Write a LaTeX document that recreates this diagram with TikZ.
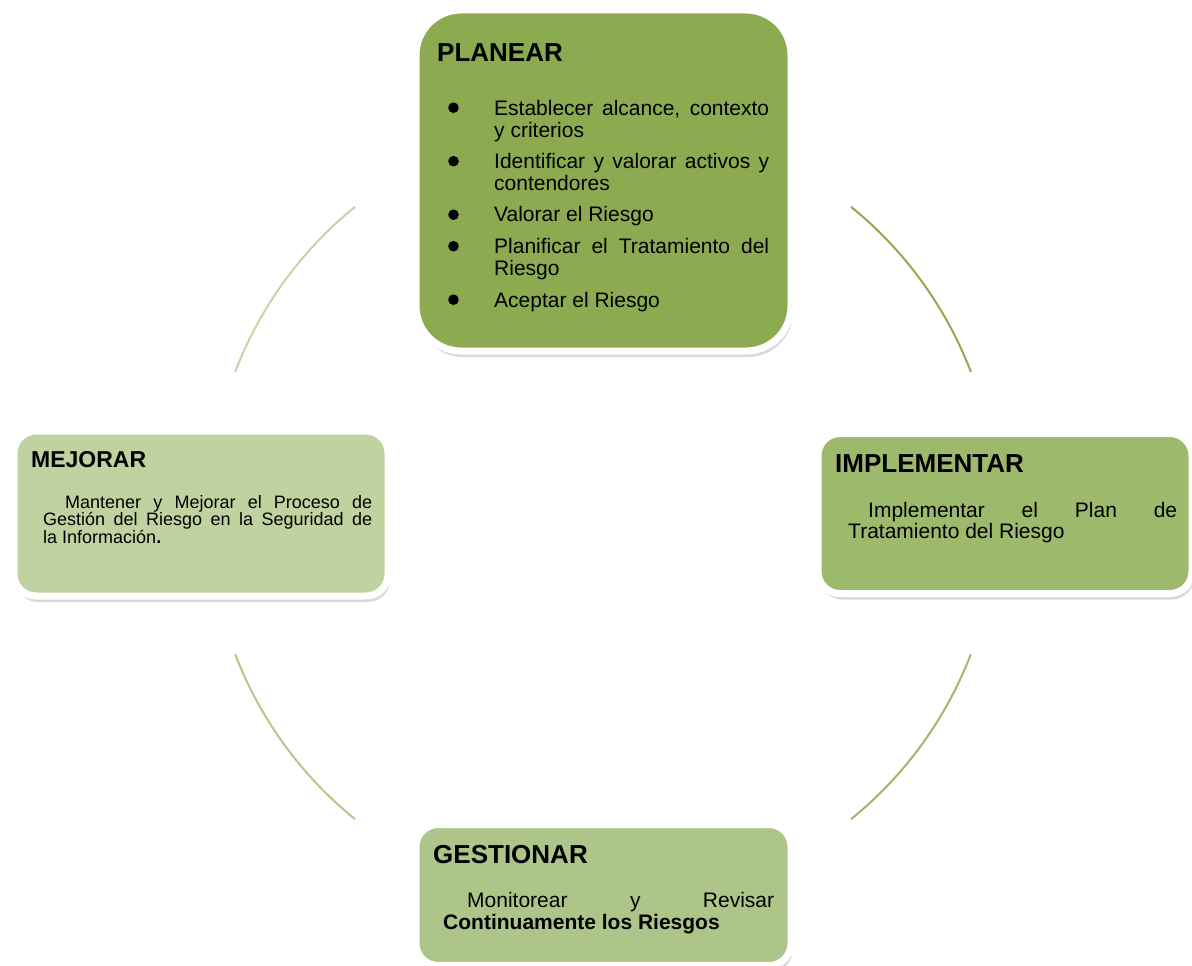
\documentclass[tikz,border=0pt]{standalone}
\usepackage{fontspec}
\setmainfont{Liberation Sans}
\usepackage{tikz}
\usetikzlibrary{shadows}

\definecolor{planearfill}{RGB}{140,170,80}
\definecolor{implementarfill}{RGB}{157,185,107}
\definecolor{gestionarfill}{RGB}{174,197,137}
\definecolor{mejorarfill}{RGB}{193,210,161}
\definecolor{arcone}{RGB}{143,172,82}
\definecolor{arctwo}{RGB}{157,186,108}
\definecolor{arcthree}{RGB}{178,200,140}
\definecolor{arcfour}{RGB}{198,213,168}

\hyphenpenalty=10000
\tolerance=10000
\hbadness=10000

\newcommand{\planitem}[1]{\hangindent=46pt\hangafter=1\noindent
  \makebox[46pt][l]{\raisebox{2pt}{\tikz\fill (0,0) circle (5.3pt);}}#1\par}

\tikzset{
  stagebox/.style={draw=white, line width=7pt, rounded corners=22pt,
    inner sep=0pt, minimum width=374pt,
    drop shadow={shadow xshift=2pt, shadow yshift=-6pt, opacity=0.3}},
  stagetitle/.style={anchor=base west, inner sep=0pt,
    font=\bfseries\fontsize{26}{26}\selectfont},
  stagetext/.style={anchor=base west, inner sep=0pt, align=justify},
  ring/.style={line width=2pt}
}

\begin{document}
\begin{tikzpicture}[x=1pt,y=-1pt]
  \useasboundingbox (0,0) rectangle (1192,966);

  \node[stagebox, fill=planearfill, rounded corners=45pt,
    minimum width=375pt, minimum height=341pt] (planear) at (603.5,180.5) {};
  \node[stagebox, fill=mejorarfill, minimum height=165pt] (mejorar) at (201,513.5) {};
  \node[stagebox, fill=implementarfill, minimum height=160pt] (implementar) at (1005,513.5) {};
  \node[stagebox, fill=gestionarfill, minimum width=375pt,
    minimum height=141pt] (gestionar) at (603.5,895) {};

  \coordinate (c) at (603,513);
  \draw[ring, arcone] ([shift={(-51:394)}]c) arc[start angle=-51, end angle=-21, radius=394];
  \draw[ring, arctwo] ([shift={(21:394)}]c) arc[start angle=21, end angle=51, radius=394];
  \draw[ring, arcthree] ([shift={(129:394)}]c) arc[start angle=129, end angle=159, radius=394];
  \draw[ring, arcfour] ([shift={(-159:394)}]c) arc[start angle=-159, end angle=-129, radius=394];

  \node[stagetitle] (planear-title) at (437,62) {PLANEAR};
  \node[stagetext, text width=321pt, font=\fontsize{21}{22}\selectfont]
    (planear-text) at (448,115) {%
    \planitem{Establecer alcance, contexto\linebreak y criterios}%
    \setlength{\parskip}{9.5pt}%
    \planitem{Identificar y valorar activos y\linebreak contendores}%
    \planitem{Valorar el Riesgo}%
    \planitem{Planificar el Tratamiento del\linebreak Riesgo}%
    \planitem{Aceptar el Riesgo}};

  \node[stagetitle, font=\bfseries\fontsize{23}{23}\selectfont]
    (mejorar-title) at (31,467) {MEJORAR};
  \node[stagetext, text width=329pt, font=\fontsize{18}{17.5}\selectfont]
    (mejorar-text) at (43,508) {\hspace*{22pt}Mantener y Mejorar el Proceso de\linebreak
    Gestión del Riesgo en la Seguridad de\linebreak la Información\textbf{.}};

  \node[stagetitle] (implementar-title) at (835,472) {IMPLEMENTAR};
  \node[stagetext, text width=329pt, font=\fontsize{21}{21.7}\selectfont]
    (implementar-text) at (848,517) {\hspace*{20pt}Implementar el Plan de\linebreak
    Tratamiento del Riesgo};

  \node[stagetitle] (gestionar-title) at (433,863) {GESTIONAR};
  \node[stagetext, text width=331pt, font=\fontsize{21}{22}\selectfont]
    (gestionar-text) at (443,907) {\hspace*{24pt}Monitorear y Revisar\linebreak
    \textbf{Continuamente los Riesgos}};
\end{tikzpicture}
\end{document}
